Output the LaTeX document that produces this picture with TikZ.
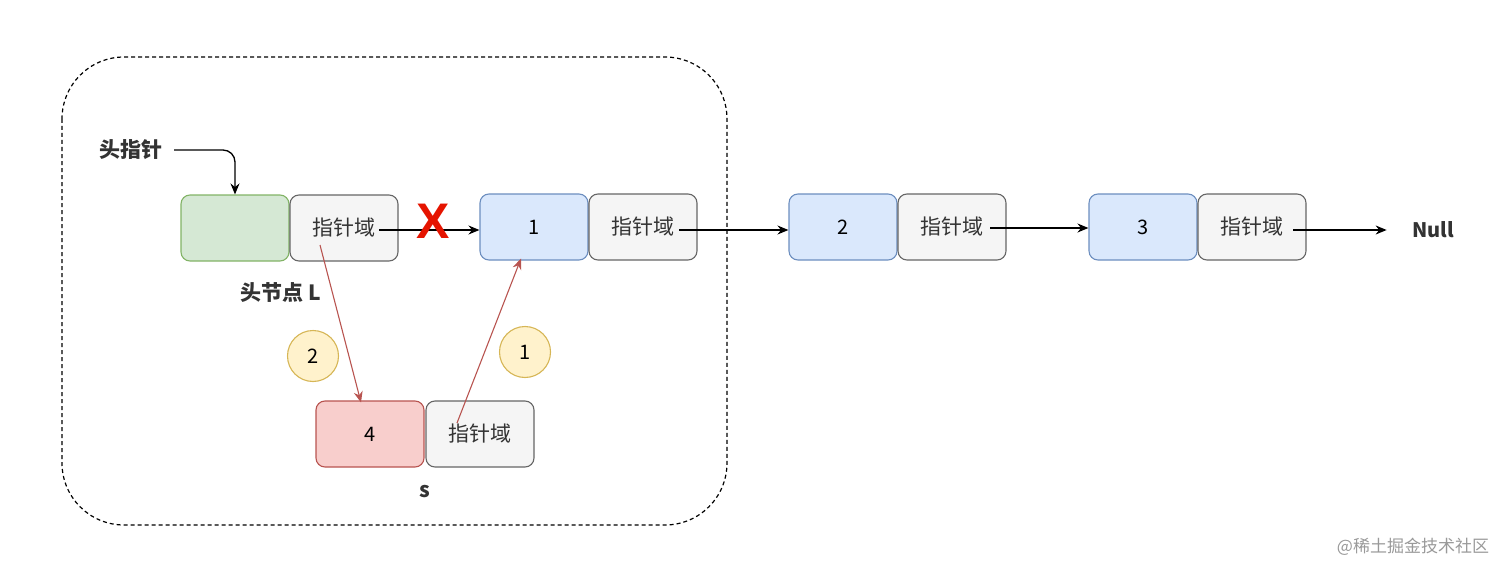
\documentclass[tikz,border=0pt]{standalone}
\usepackage{fontspec}
\newfontfamily\cjk{Noto Sans CJK SC}
\newfontfamily\latinbold{Liberation Sans}
\usetikzlibrary{arrows.meta}
\definecolor{greenfill}{HTML}{D5E8D4}
\definecolor{greenline}{HTML}{82B366}
\definecolor{greyfill}{HTML}{F5F5F5}
\definecolor{greyline}{HTML}{666666}
\definecolor{bluefill}{HTML}{DAE8FC}
\definecolor{blueline}{HTML}{6C8EBF}
\definecolor{redfill}{HTML}{F8CECC}
\definecolor{redline}{HTML}{B85450}
\definecolor{yellowfill}{HTML}{FFF2CC}
\definecolor{yellowline}{HTML}{D6B656}
\definecolor{markred}{HTML}{E51400}
\definecolor{labelgrey}{HTML}{333333}
\begin{document}
\begin{tikzpicture}[x=1pt, y=-1pt, >={Stealth[length=11pt,width=9pt]},
  box/.style={draw, rounded corners=9pt, line width=1.1pt, minimum width=108pt, minimum height=66pt, inner sep=0pt, font=\cjk\fontsize{20}{22}\selectfont},
  headbox/.style={box, fill=greenfill, draw=greenline},
  ptrbox/.style={box, fill=greyfill, draw=greyline, text=labelgrey, font=\cjk\fontsize{21}{22}\selectfont},
  databox/.style={box, fill=bluefill, draw=blueline},
  newbox/.style={box, fill=redfill, draw=redline},
  stepmark/.style={circle, draw=yellowline, fill=yellowfill, line width=1.1pt, minimum size=51pt, inner sep=0pt, font=\cjk\fontsize{20}{22}\selectfont},
  tag/.style={text=labelgrey, font=\cjk\bfseries\fontsize{21}{22}\selectfont},
  link/.style={->, line width=1.3pt},
  relink/.style={->, line width=1.1pt, draw=redline, >={Stealth[length=11pt,width=9pt,fill=redline]}}]
\useasboundingbox (0,0) rectangle (1512,575);
% Dashed region
				\draw[dashed, dash pattern=on 4pt off 3pt, line width=1.2pt, rounded corners=62pt] (62,57) rectangle (727,525);
% Head node L
				\node[headbox] (hd) at (235,228) {};
				\node[ptrbox] (hp) at (344,228) {指针域};
				\node[tag] (hlabel) at (131,150) {头指针};
				\node[tag] (lname) at (281,293) {头节点 L};
				\draw[link, rounded corners=12pt] ([xshift=8pt]hlabel.east) -| (hd.north);
% Nodes 1, 2, 3
				\node[databox] (n1d) at (534,227) {1};
				\node[ptrbox] (n1p) at (643,227) {指针域};
				\node[databox] (n2d) at (843,227) {2};
				\node[ptrbox] (n2p) at (952,227) {指针域};
				\node[databox] (n3d) at (1143,227) {3};
				\node[ptrbox] (n3p) at (1252,227) {指针域};
				\node[tag, font=\cjk\bfseries\fontsize{20}{22}\selectfont] (null) at (1433,230) {Null};
% Links
				\draw[link] ([xshift=35pt,yshift=-2pt]hp.center) -- ([yshift=-3pt]n1d.west);
				\node[text=markred, font=\latinbold\bfseries\fontsize{50}{50}\selectfont] (cut) at (433,221) {X};
				\draw[link] ([xshift=36pt,yshift=-3pt]n1p.center) -- ([yshift=-3pt]n2d.west);
				\draw[link] ([xshift=38pt,yshift=-1pt]n2p.center) -- ([yshift=-1pt]n3d.west);
				\draw[link] ([xshift=41pt,yshift=-3pt]n3p.center) -- ([xshift=-22pt]null.west);
% New node s
				\node[newbox] (n4d) at (370,434) {4};
				\node[ptrbox] (n4p) at (480,434) {指针域};
				\node[tag] (sname) at (425,492) {s};
				\draw[relink] ([xshift=-24pt,yshift=-17pt]hp.center) -- ([xshift=-9pt,yshift=-2pt]n4d.north);
				\draw[relink] ([xshift=-23pt,yshift=11pt]n4p.center) -- ([xshift=-13pt,yshift=2pt]n1d.south);
% Step marks
				\node[stepmark] (st2) at (313,356) {2};
				\node[stepmark] (st1) at (525,352) {1};
% Watermark
				\node[text=black!40, font=\cjk\fontsize{17}{20}\selectfont] (wm) at (1413,547) {@稀土掘金技术社区};
\end{tikzpicture}
\end{document}
